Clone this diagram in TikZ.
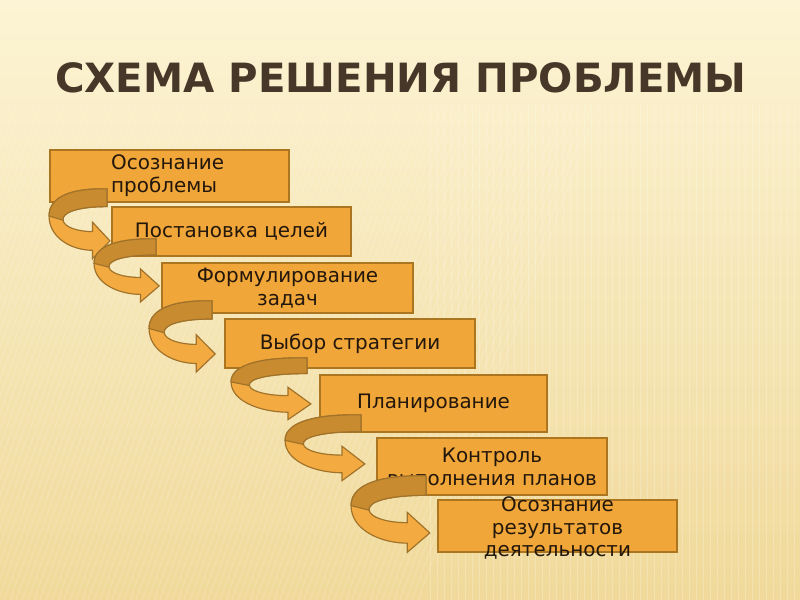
\documentclass[tikz,border=0pt]{standalone}
\usepackage{fontspec}
\setmainfont{DejaVu Sans}
\usepackage{tikz}
\usetikzlibrary{positioning,calc}
\definecolor{bgtop}{HTML}{FCF4D4}
\definecolor{bgbottom}{HTML}{F0D99A}
\definecolor{boxfill}{HTML}{F0A638}
\definecolor{boxline}{HTML}{AC7620}
\definecolor{arrowlight}{HTML}{F3AA40}
\definecolor{arrowdark}{HTML}{C98B30}
\definecolor{arrowline}{HTML}{A0722A}
\definecolor{titlecol}{HTML}{463728}
\definecolor{textcol}{HTML}{23170C}
\tikzset{
    stepbox/.style={rectangle,draw=boxline,fill=boxfill,line width=1.6pt,inner sep=0pt,
        align=center,text=textcol,font=\fontsize{17}{19.6}\selectfont},
    steptext/.style={align=center,text=textcol,inner sep=0pt,font=\fontsize{17}{19.6}\selectfont},
    pics/turn/.style 2 args={code={
        \begin{scope}[xscale=#1,yscale=#2]
        % light front of the ribbon with the head
        \filldraw[fill=arrowlight,draw=arrowline,line width=1pt]
            (0,0) .. controls (-0.55,-0.02) and (-1,0.12) .. (-1,0.52)
            .. controls (-1,0.95) and (-0.6,1.18) .. (-0.25,1.18)
            -- (-0.25,1.34) -- (0.05,1) -- (-0.25,0.64) -- (-0.25,0.82)
            .. controls (-0.5,0.82) and (-0.74,0.74) .. (-0.76,0.6)
            .. controls (-0.78,0.45) and (-0.5,0.34) .. (0,0.34) -- cycle;
        % dark back of the ribbon
        \filldraw[fill=arrowdark,draw=arrowline,line width=1pt]
            (0,0) .. controls (-0.55,-0.02) and (-1,0.12) .. (-1,0.52)
            -- (-0.76,0.6)
            .. controls (-0.78,0.45) and (-0.5,0.34) .. (0,0.34) -- cycle;
        \end{scope}
    }}
}

\begin{document}
\begin{tikzpicture}[x=0.03cm,y=-0.03cm]
    \useasboundingbox (0,0) rectangle (800,600);
    \shade[top color=bgtop,bottom color=bgbottom] (0,0) rectangle (800,600);
    % background texture
    \foreach \x in {-200,-194,...,420}
        \draw[white,opacity=0.22,line width=0.6pt] (\x,600) -- (\x+180,105);
    \foreach \x in {430,437,...,800}
        \draw[white,opacity=0.22,line width=0.6pt] (\x,600) -- (\x,105);

    \node[text=titlecol,font=\fontsize{34.4}{40}\selectfont\bfseries,inner sep=0pt] (title) at (401,78) {СХЕМА РЕШЕНИЯ ПРОБЛЕМЫ};

    % steps
    \node[stepbox,minimum width=7.17cm,minimum height=1.56cm,text width=3.5cm,align=left] (b1) at (169.5,176) {Осознание\\проблемы};
    \node[stepbox,minimum width=7.17cm,minimum height=1.47cm] (b2) at (231.5,231.5) {Постановка целей};
    \node[stepbox,minimum width=7.53cm,minimum height=1.5cm] (b3) at (287.5,288) {Формулирование\\задач};
    \node[stepbox,minimum width=7.5cm,minimum height=1.47cm] (b4) at (350,343.5) {Выбор стратегии};
    \node[stepbox,minimum width=6.81cm,minimum height=1.71cm] (b5) at (433.5,403.5) {Планирование};
    \node[stepbox,minimum width=6.9cm,minimum height=1.71cm] (b6) at (492,466.5) {Контроль\\выполнения планов};
    \node[stepbox,minimum width=7.17cm,minimum height=1.56cm] (b7) at (557.5,526) {};
    \node[steptext] (t7) at ($(b7)+(0,2)$) {Осознание\\результатов\\деятельности};

    % turning arrows
    \path (b1.south west) ++(58,-14) pic {turn={58}{52}};
    \path (b2.south west) ++(45,-18) pic {turn={62}{47}};
    \path (b3.south west) ++(51,-13) pic {turn={63}{53}};
    \path (b4.south west) ++(83,-11) pic {turn={76}{46}};
    \path (b5.south west) ++(42,-18) pic {turn={76}{49}};
    \path (b6.south west) ++(50,-20) pic {turn={75}{57}};
\end{tikzpicture}
\end{document}
